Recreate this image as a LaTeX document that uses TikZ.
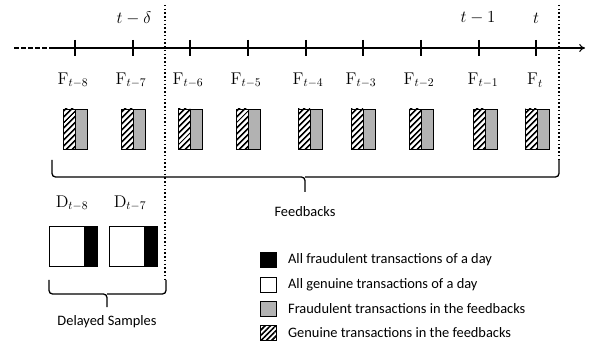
\documentclass[tikz,border=0pt]{standalone}
\usepackage{fontspec}
\setsansfont{Carlito}
\usetikzlibrary{arrows.meta,patterns.meta,positioning}

\tikzset{
  axis/.style={line width=0.9pt},
  sep/.style={line width=1.2pt,dotted},
  brace/.style={line width=1.1pt,rounded corners=3pt},
  stripes/.style={pattern={Lines[angle=45,distance=4pt,line width=1.8pt]}},
  part/.style={draw,line width=0.6pt,inner sep=0pt,outer sep=0pt,minimum height=1.2cm},
  hatch/.style={part,minimum width=0.36cm,stripes},
  fbfraud/.style={part,minimum width=0.36cm,fill=gray!60},
  day/.style={part,minimum width=1.44cm,fill=white},
  dayfraud/.style={part,minimum width=0.39cm,fill=black},
  mathlabel/.style={font=\fontsize{14.5}{17}\selectfont},
  sans/.style={font=\sffamily\fontsize{12.3}{15}\selectfont},
  key/.style={draw,line width=0.6pt,inner sep=0pt,minimum width=0.48cm,minimum height=0.45cm},
}

\begin{document}
\begin{tikzpicture}[x=0.03cm,y=-0.03cm,>={To[length=5pt,width=7pt]}]
\useasboundingbox (0,0) rectangle (592,347);

% time axis
\coordinate (tail) at (14,48);
\coordinate (start) at (50,48);
\coordinate (head) at (585,48);
\draw[axis,dash pattern=on 4pt off 2pt] (tail) -- (start);
\draw[axis,->] (start) -- (head);

% ticks, feedback boxes and their labels
\foreach \t/\s/\n/\lab in {75/75/8/t-8, 133/133/7/t-7, 190/190/6/t-6, 248/248/5/t-5,
    306/310/4/t-4, 363/363/3/t-3, 421/421/2/t-2, 479/485/1/t-1, 536/537/0/t} {
  \draw[axis] (\t,40) -- (\t,56);
  \node[hatch,anchor=east] (g\n) at (\s,129) {};
  \node[fbfraud,anchor=west] (r\n) at (\s,129) {};
  \node[mathlabel] (F\n) at (\s-2,80) {$\mathrm{F}_{\lab}$};
}

\node[mathlabel] (delta) at (134,18) {$t-\delta$};
\node[mathlabel] (tm1) at (478,18) {$t-1$};
\node[mathlabel] (tnow) at (536,18) {$t$};

% separators
\draw[sep] (165,5) -- (165,280);
\draw[sep] (559,5) -- (559,160);

% feedbacks brace
\draw[brace] (52,160) |- (305,177) -- (305,192);
\draw[brace] (559,160) |- (305,177);
\node[sans] (fb) at (305,212) {Feedbacks};

% delayed samples
\node[day] (d8) at (73,246) {};
\node[dayfraud,anchor=east] (k8) at (d8.east) {};
\node[day] (d7) at (133,246) {};
\node[dayfraud,anchor=east] (k7) at (d7.east) {};
\node[mathlabel] (D8) at (72,203) {$\mathrm{D}_{t-8}$};
\node[mathlabel] (D7) at (130,203) {$\mathrm{D}_{t-7}$};

\draw[brace] (49,280) |- (107,294) -- (107,307);
\draw[brace] (166,280) |- (107,294);
\node[sans] (ds) at (107,322) {Delayed Samples};

% legend
\node[key,fill=black] (l1) at (268,260) {};
\node[key,fill=white] (l2) at (268,285) {};
\node[key,fill=gray!60] (l3) at (268,309) {};
\node[key,pattern={Lines[angle=45,distance=3.2pt,line width=1.4pt]}] (l4) at (268,333) {};
\node[sans,anchor=west] (t1) at (284,260) {All fraudulent transactions of a day};
\node[sans,anchor=west] (t2) at (284,285) {All genuine transactions of a day};
\node[sans,anchor=west] (t3) at (284,309) {Fraudulent transactions in the feedbacks};
\node[sans,anchor=west] (t4) at (284,333) {Genuine transactions in the feedbacks};
\end{tikzpicture}
\end{document}
